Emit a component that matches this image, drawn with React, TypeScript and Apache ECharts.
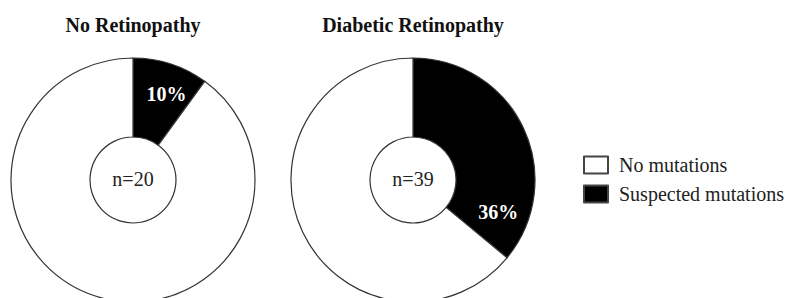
import React, { useEffect, useRef } from "react";
import * as echarts from "echarts";

const categories = ["Suspected mutations", "No mutations"];
const panelTitles = ["No Retinopathy", "Diabetic Retinopathy"];
const sampleSizes = [20, 39];
const suspectedPct = [10, 36];
const colors = ["#000000", "#ffffff"];

const FONT = "Liberation Serif";

export default function App() {
  const ref = useRef<HTMLDivElement>(null);
  useEffect(() => {
    document.body.style.margin = "0";
    const chart = echarts.init(ref.current!, null, { renderer: "svg" });
    const centers = [
      [133, 180],
      [413, 180],
    ];
    const labelOffsets = [
      [7, -5],
      [8, 68],
    ];
    const series = panelTitles.map((t, i) => ({
      type: "pie",
      name: t,
      center: centers[i],
      radius: [43, 122],
      startAngle: 90,
      clockwise: true,
      silent: true,
      data: categories.map((c, k) => ({
        name: c,
        value: k === 0 ? suspectedPct[i] : 100 - suspectedPct[i],
        itemStyle: { color: colors[k], borderColor: "#333333", borderWidth: 1.2 },
        label: {
          show: k === 0,
          position: "inside",
          formatter: "{c}%",
          color: "#ffffff",
          fontFamily: FONT,
          fontWeight: "bold",
          fontSize: 20,
        },
      })),
      labelLine: { show: false },
      labelLayout: () => ({ dx: labelOffsets[i][0], dy: labelOffsets[i][1] }),
      emphasis: { disabled: true },
    }));
    chart.setOption({
      animation: false,
      backgroundColor: "#ffffff",
      textStyle: { fontFamily: FONT },
      title: [
        ...panelTitles.map((t, i) => ({
          text: t,
          left: centers[i][0],
          top: 15,
          textAlign: "center",
          textStyle: { fontFamily: FONT, fontWeight: "bold", fontSize: 20, color: "#111" },
          padding: 0,
        })),
        ...sampleSizes.map((n, i) => ({
          text: "n=" + n,
          left: centers[i][0],
          top: centers[i][1] - 11,
          textAlign: "center",
          textStyle: { fontFamily: FONT, fontWeight: "normal", fontSize: 20, color: "#222" },
          padding: 0,
        })),
      ],
      legend: {
        orient: "vertical",
        left: 583,
        top: 155,
        icon: "rect",
        itemWidth: 24,
        itemHeight: 17,
        itemGap: 9,
        padding: 0,
        itemStyle: { borderColor: "#444444", borderWidth: 2 },
        data: ["No mutations", "Suspected mutations"],
        textStyle: { fontFamily: FONT, fontSize: 20, color: "#222", padding: [0, 0, 0, 6] },
        selectedMode: false,
      },
      series,
    });
    return () => chart.dispose();
  }, []);
  return <div ref={ref} style={{ width: 790, height: 298, position: "absolute", left: 0, top: 0 }} />;
}
